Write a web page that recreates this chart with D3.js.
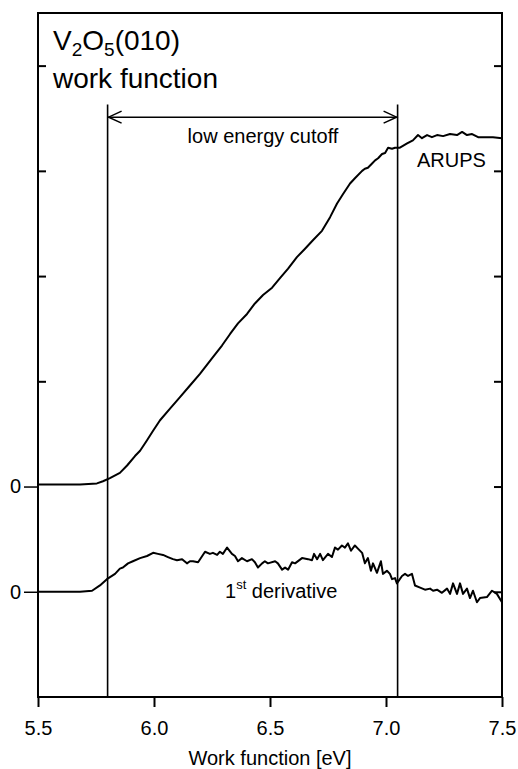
<!DOCTYPE html>
<html>
<head>
<meta charset="utf-8">
<script src="https://cdn.jsdelivr.net/npm/d3@7"></script>
<style>
  html, body { margin: 0; padding: 0; background: #fff; }
  svg { display: block; font-family: "Liberation Sans", Arial, Helvetica, sans-serif; }
</style>
</head>
<body>
<svg id="chart" width="518" height="769"></svg>
<script>
// ---------- data ----------
const xTickValues = [5.5, 6.0, 6.5, 7.0, 7.5];
const xTickLabels = ["5.5", "6.0", "6.5", "7.0", "7.5"];
const yTickValues = [0, 1, 2, 3, 4, 5];
const zeroTickValues = [0, 1];
const zeroTickLabels = ["0", "0"];
const cutoffs = [5.80, 7.05];           // low energy cutoff markers (eV)
const arupsOffset = 1;                  // vertical stacking of the ARUPS trace
const derivOffset = 0;

// ARUPS spectrum: [work function eV, intensity]
const arupsEnergy = [5.5,5.595,5.681,5.754,5.78,5.81,5.853,5.884,5.918,5.94,5.97,5.996,6.026,6.069,6.112,6.155,6.198,6.254,6.293,6.328,6.362,6.401,6.435,6.47,6.509,6.543,6.578,6.616,6.651,6.685,6.724,6.759,6.789,6.815,6.845,6.866,6.897,6.909,6.922,6.94,6.953,6.966,6.983,6.996,7.009,7.026,7.039,7.06,7.091,7.116,7.138,7.155,7.177,7.198,7.22,7.246,7.276,7.306,7.328,7.349,7.371,7.397,7.435,7.461,7.5];
const arupsValue = [0.02,0.02,0.02,0.03,0.05,0.08,0.13,0.20,0.29,0.34,0.44,0.53,0.63,0.74,0.85,0.96,1.07,1.23,1.34,1.45,1.55,1.64,1.74,1.82,1.89,1.98,2.07,2.18,2.26,2.34,2.43,2.56,2.69,2.78,2.88,2.93,3.00,3.02,3.03,3.07,3.10,3.12,3.16,3.17,3.22,3.21,3.22,3.22,3.26,3.29,3.34,3.31,3.34,3.32,3.34,3.33,3.35,3.34,3.37,3.34,3.35,3.32,3.32,3.32,3.31];

// 1st derivative
const derivEnergy = [5.5,5.595,5.681,5.733,5.767,5.797,5.832,5.853,5.866,5.888,5.909,5.94,5.97,5.996,6.017,6.039,6.06,6.082,6.099,6.121,6.142,6.155,6.168,6.19,6.22,6.241,6.254,6.272,6.284,6.297,6.315,6.336,6.349,6.362,6.379,6.401,6.422,6.435,6.448,6.466,6.478,6.491,6.522,6.534,6.552,6.565,6.578,6.595,6.608,6.638,6.664,6.681,6.69,6.703,6.716,6.728,6.75,6.767,6.78,6.793,6.81,6.823,6.836,6.849,6.866,6.879,6.897,6.909,6.922,6.935,6.944,6.961,6.978,6.987,7.004,7.017,7.026,7.039,7.047,7.069,7.082,7.095,7.112,7.125,7.147,7.168,7.19,7.203,7.22,7.241,7.263,7.276,7.289,7.306,7.319,7.332,7.349,7.362,7.375,7.392,7.405,7.435,7.457,7.478,7.5];
const derivValue = [0,0,0,0.01,0.06,0.12,0.17,0.22,0.23,0.27,0.29,0.32,0.34,0.37,0.36,0.35,0.33,0.31,0.30,0.31,0.27,0.29,0.29,0.28,0.38,0.36,0.37,0.35,0.38,0.36,0.42,0.36,0.34,0.29,0.32,0.29,0.31,0.28,0.23,0.27,0.29,0.27,0.29,0.27,0.21,0.23,0.21,0.28,0.27,0.32,0.31,0.30,0.36,0.31,0.36,0.30,0.36,0.33,0.42,0.40,0.44,0.42,0.46,0.39,0.44,0.41,0.37,0.27,0.32,0.20,0.27,0.18,0.29,0.17,0.20,0.17,0.12,0.13,0.08,0.15,0.17,0.15,0.17,0.06,0.04,0.02,0.03,0.01,0.02,-0.01,0.03,-0.02,0.08,-0.02,0.08,-0.02,0.03,-0.06,0.01,-0.10,-0.06,-0.05,0.01,-0.02,-0.10];

// ---------- chart ----------
const svg = d3.select("#chart");
const x = d3.scaleLinear().domain([5.5, 7.5]).range([38, 502]);
const y = d3.scaleLinear().domain([-1, 5.5]).range([697, 13]);
const FS = 20;
const FF = "Liberation Sans, Arial, sans-serif";

// curves
const line = d3.line().x(d => x(d[0])).y(d => y(d[1]));
const arups = arupsEnergy.map((e, i) => [e, arupsValue[i] + arupsOffset]);
const deriv = derivEnergy.map((e, i) => [e, derivValue[i] + derivOffset]);
svg.append("path").datum(arups).attr("d", line)
  .attr("fill", "none").attr("stroke", "#000").attr("stroke-width", 2).attr("stroke-linejoin", "round");
svg.append("path").datum(deriv).attr("d", line)
  .attr("fill", "none").attr("stroke", "#000").attr("stroke-width", 2).attr("stroke-linejoin", "round");

// cutoff vertical lines
svg.selectAll("line.cut").data(cutoffs).join("line").attr("class", "cut")
  .attr("x1", d => x(d)).attr("x2", d => x(d))
  .attr("y1", y(4.63)).attr("y2", y(-1))
  .attr("stroke", "#000").attr("stroke-width", 1.6);

// double arrow
const ya = y(4.51);
const xa0 = x(cutoffs[0]), xa1 = x(cutoffs[1]);
svg.append("line").attr("x1", xa0).attr("x2", xa1).attr("y1", ya).attr("y2", ya)
  .attr("stroke", "#000").attr("stroke-width", 1.5);
svg.append("path").attr("d", `M${xa0 + 14},${ya - 6}L${xa0 + 1},${ya}L${xa0 + 14},${ya + 6}`)
  .attr("fill", "none").attr("stroke", "#000").attr("stroke-width", 1.5);
svg.append("path").attr("d", `M${xa1 - 14},${ya - 6}L${xa1 - 1},${ya}L${xa1 - 14},${ya + 6}`)
  .attr("fill", "none").attr("stroke", "#000").attr("stroke-width", 1.5);

// frame
svg.append("rect").attr("x", x(5.5)).attr("y", y(5.5))
  .attr("width", x(7.5) - x(5.5)).attr("height", y(-1) - y(5.5))
  .attr("fill", "none").attr("stroke", "#000").attr("stroke-width", 2);

// x axis
const xAxis = d3.axisBottom(x).tickValues(xTickValues)
  .tickFormat((d, i) => xTickLabels[i]).tickSize(10).tickPadding(14);
const gx = svg.append("g").attr("transform", `translate(0,${y(-1)})`).call(xAxis);
gx.attr("font-size", FS).attr("font-family", FF);
gx.select(".domain").remove();
gx.selectAll("line").attr("stroke-width", 2);
gx.selectAll("text").attr("fill", "#000");

// left axis: inward ticks
const gl = svg.append("g").attr("transform", `translate(${x(5.5)},0)`)
  .call(d3.axisLeft(y).tickValues(yTickValues.filter(v => v >= 2)).tickSize(-8).tickFormat(""));
gl.select(".domain").remove();
gl.selectAll("line").attr("stroke-width", 2);

// left axis: outward zero ticks
const gz = svg.append("g").attr("transform", `translate(${x(5.5)},0)`)
  .call(d3.axisLeft(y).tickValues(zeroTickValues).tickSize(14).tickPadding(3)
    .tickFormat((d, i) => zeroTickLabels[i]));
gz.attr("font-size", FS).attr("font-family", FF);
gz.select(".domain").remove();
gz.selectAll("line").attr("stroke-width", 1.5);
gz.selectAll("text").attr("fill", "#000");

// right axis: inward ticks
const gr = svg.append("g").attr("transform", `translate(${x(7.5)},0)`)
  .call(d3.axisRight(y).tickValues(yTickValues).tickSize(-8).tickFormat(""));
gr.select(".domain").remove();
gr.selectAll("line").attr("stroke-width", 2);

// axis title
svg.append("text").attr("x", (x(5.5) + x(7.5)) / 2).attr("y", 765)
  .attr("text-anchor", "middle").attr("font-size", FS).text("Work function [eV]");

// title
const t1 = svg.append("text").attr("x", 53).attr("y", 50).attr("font-size", 28);
t1.append("tspan").text("V");
t1.append("tspan").attr("font-size", 19).attr("dy", 6).text("2");
t1.append("tspan").attr("dy", -6).text("O");
t1.append("tspan").attr("font-size", 19).attr("dy", 6).text("5");
t1.append("tspan").attr("dy", -6).text("(010)");
svg.append("text").attr("x", 53).attr("y", 88).attr("font-size", 28).text("work function");

// annotations
svg.append("text").attr("x", 263).attr("y", 143)
  .attr("text-anchor", "middle").attr("font-size", FS).text("low energy cutoff");
svg.append("text").attr("x", 417).attr("y", 167).attr("font-size", FS).text("ARUPS");
const t3 = svg.append("text").attr("x", 225).attr("y", 598).attr("font-size", FS);
t3.append("tspan").text("1");
t3.append("tspan").attr("font-size", 13).attr("dy", -9).text("st");
t3.append("tspan").attr("dy", 9).text(" derivative");
</script>
</body>
</html>
